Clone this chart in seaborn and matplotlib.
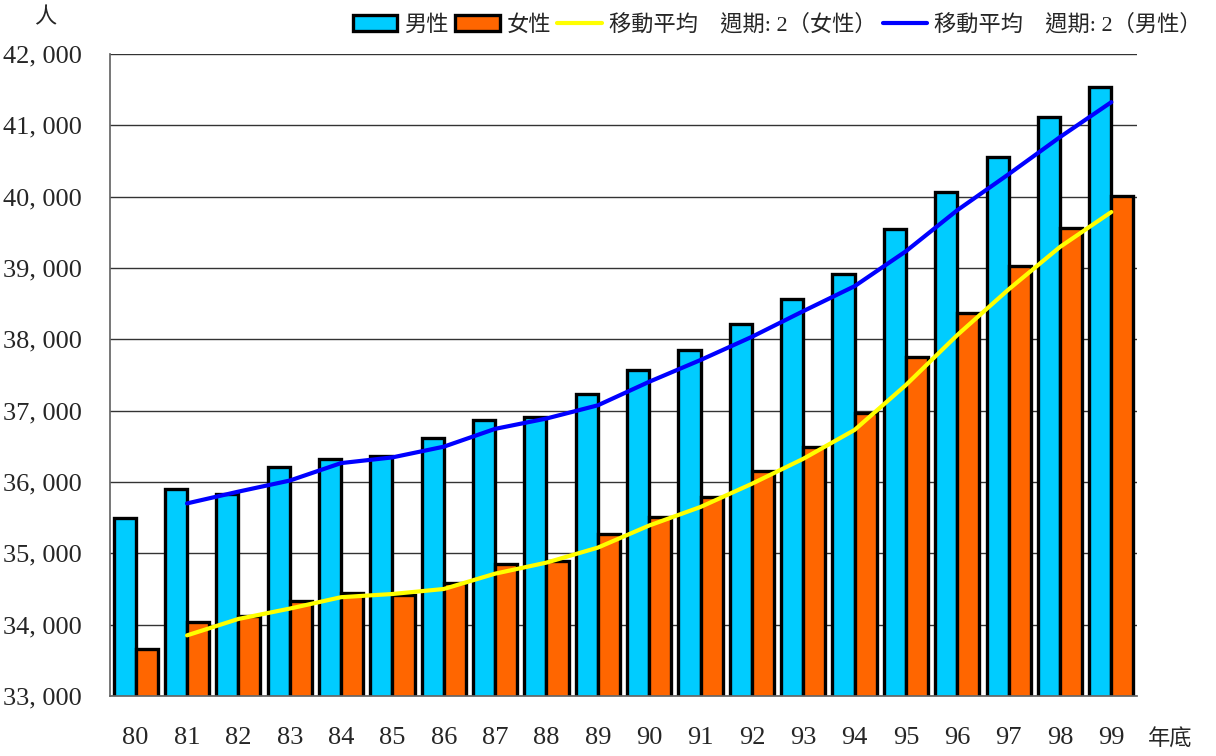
import pandas as pd
import matplotlib
matplotlib.use("Agg")
import matplotlib.pyplot as plt
import seaborn as sns
from matplotlib.ticker import FuncFormatter, MultipleLocator
from matplotlib.patches import Patch

# data
years = ["80", "81", "82", "83", "84", "85", "86", "87", "88", "89",
         "90", "91", "92", "93", "94", "95", "96", "97", "98", "99"]
male = [35500, 35900, 35830, 36210, 36320, 36370, 36620, 36870, 36910, 37240,
        37570, 37850, 38220, 38570, 38920, 39550, 40070, 40560, 41110, 41540]
female = [33660, 34040, 34120, 34330, 34440, 34420, 34580, 34850, 34890, 35270,
          35510, 35790, 36160, 36490, 36970, 37750, 38370, 39030, 39560, 40010]

sns.set_theme(style="white")
plt.rcParams['font.family'] = ['Liberation Serif', 'Noto Sans CJK TC', 'DejaVu Sans']

df = pd.DataFrame({"年": years * 2,
                   "性別": ["男性"] * len(years) + ["女性"] * len(years),
                   "人數": male + female})

fig = plt.figure(figsize=(12.16, 7.56), dpi=100)
ax = fig.add_axes([110 / 1216, 1 - 696 / 756, (1137 - 110) / 1216, (696 - 54) / 756])

sns.barplot(data=df, x="年", y="人數", hue="性別", order=years,
            hue_order=["男性", "女性"],
            palette={"男性": "#00CCFF", "女性": "#FF6600"}, saturation=1,
            edgecolor="black", linewidth=2.4, width=0.86, ax=ax, legend=False)

# moving average, period 2
ma_f = pd.Series(female).rolling(2).mean()
ma_m = pd.Series(male).rolling(2).mean()
xs = list(range(len(years)))
ax.plot(xs[1:], ma_f[1:], color="#FFFF00", lw=3, label="移動平均　週期: 2（女性）", zorder=5)
ax.plot(xs[1:], ma_m[1:], color="#0000FF", lw=3, label="移動平均　週期: 2（男性）", zorder=5)

ax.set_ylim(33000, 42000)
ax.set_xlim(-0.5, len(years) - 0.5)
ax.yaxis.set_major_locator(MultipleLocator(1000))
ax.yaxis.set_major_formatter(FuncFormatter(lambda v, p: f"{int(v):,}".replace(",", ", ")))
ax.yaxis.grid(True, color="#333333", lw=1)
ax.set_axisbelow(True)
for s in ["top", "right"]:
    ax.spines[s].set_visible(False)
ax.spines["left"].set_color("#666666")
ax.spines["bottom"].set_color("#666666")
ax.tick_params(axis="y", labelsize=19, pad=20, length=0)
ax.tick_params(axis="x", labelsize=19, pad=22, length=0)
ax.set_xlabel("")
ax.set_ylabel("")

fig.text(45 / 1216, 1 - 18 / 756, "人", fontsize=16, ha="center", va="center")
fig.text(1170 / 1216, 1 - 740 / 756, "年底", fontsize=16, ha="center", va="center")

handles = [Patch(facecolor="#00CCFF", edgecolor="black", lw=2.4, label="男性"),
           Patch(facecolor="#FF6600", edgecolor="black", lw=2.4, label="女性")]
h, l = ax.get_legend_handles_labels()
handles += h
fig.legend(handles=handles, loc="upper right", bbox_to_anchor=(1.0, 1.0), ncol=4,
           frameon=False, fontsize=16, handlelength=2.0, handletextpad=0.3,
           columnspacing=0.3, borderaxespad=0.25)

fig.savefig("out.png", dpi=100, facecolor="white")
